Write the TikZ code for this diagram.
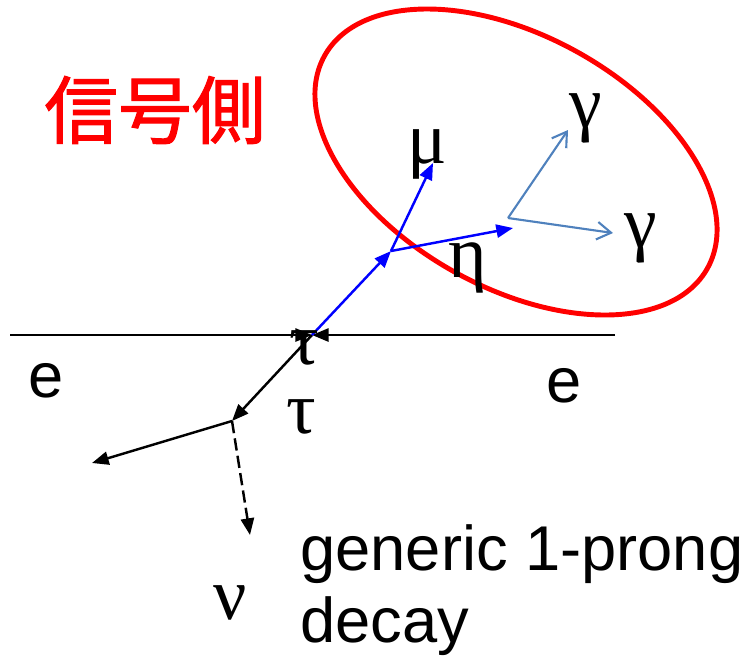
\documentclass[tikz,border=0pt]{standalone}
\usepackage{fontspec}
\setmainfont{Liberation Sans}
\newfontfamily\grk{Liberation Serif}
\newfontfamily\cjk{Noto Sans CJK JP}[FakeBold=1.5]
\usetikzlibrary{shapes.geometric, arrows.meta}

\definecolor{gblue}{RGB}{79,129,189}

\begin{document}
\begin{tikzpicture}[
        x=0.02cm, y=-0.02cm,
        lbl/.style={inner sep=0pt, font=\grk\fontsize{42}{48}\selectfont},
        etxt/.style={inner sep=0pt, font=\fontsize{36}{41.4}\selectfont},
        arr/.style={-{Triangle[length=9.5pt, width=7.5pt]}, line width=1.4pt},
        garr/.style={-{Straight Barb[length=8pt, width=10pt]}, line width=1.2pt, gblue}
        ]
        \useasboundingbox (0,0) rectangle (750,657);
        % signal side
        \node[draw=red, line width=2.8pt, ellipse, minimum width=8.76cm, minimum height=5.04cm, rotate=-29] (sig) at (516,162) {};
        \node[text=red, font=\cjk\fontsize{42}{48}\selectfont] (side) at (155,110) {信号側};
        % vertices
        \coordinate (V) at (312,335);
        \coordinate (L) at (10,335);
        \coordinate (R) at (615,335);
        \coordinate (D) at (232,421);
        \coordinate (P) at (92,463);
        \coordinate (N) at (250,535);
        \coordinate (S) at (391,251);
        \coordinate (M) at (433,163);
        \coordinate (H) at (513,228);
        \coordinate (G) at (508,218);
        \coordinate (G1) at (568,130);
        \coordinate (G2) at (613,233);
        % beams
        \draw[arr] (L) -- (V);
        \draw[arr] (R) -- (V);
        % tag side
        \draw[arr] (V) -- (D);
        \draw[arr] (D) -- (P);
        \draw[arr, dash pattern=on 7pt off 3pt] (D) -- (N);
        % signal
        \draw[arr, blue] (V) -- (S);
        \draw[arr, blue] (S) -- (M);
        \draw[arr, blue] (S) -- (H);
        \draw[garr] (G) -- (G1);
        \draw[garr] (G) -- (G2);
        % labels
        \node[lbl] (tau1) at (304,348) {τ};
        \node[lbl] (tau2) at (301,417) {τ};
        \node[lbl] (mu) at (427,154) {μ};
        \node[lbl] (eta) at (468,268) {η};
        \node[lbl] (gam1) at (586,118) {γ};
        \node[lbl] (gam2) at (641,238) {γ};
        \node[lbl] (nu) at (230,603) {ν};
        \node[etxt] (e1) at (46,381) {e};
        \node[etxt] (e2) at (564,386) {e};
        \node[etxt, anchor=north west, align=left] (gen) at (300,524) {generic 1-prong\\decay};
\end{tikzpicture}
\end{document}
